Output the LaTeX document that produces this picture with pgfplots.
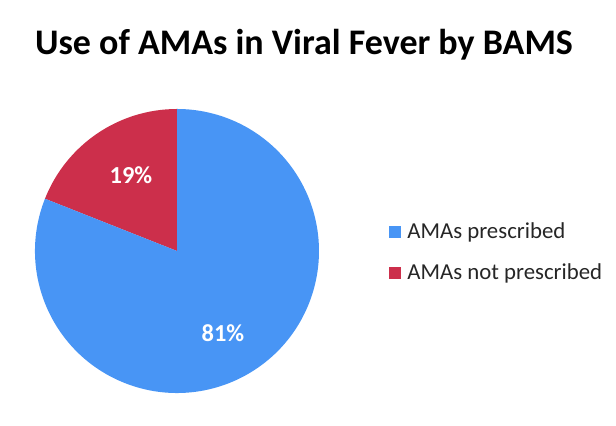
\documentclass[border=0pt]{standalone}
\usepackage{fontspec}
\setmainfont{Carlito}
\usepackage{pgfplots}
\pgfplotsset{compat=1.18}
\definecolor{pieblue}{RGB}{72,149,245}
\definecolor{piered}{RGB}{204,47,75}
\begin{document}
\begin{tikzpicture}
% pie values (percent)
\def\valA{81}% AMAs prescribed
\def\valB{19}% AMAs not prescribed
\pgfmathsetmacro{\angB}{90+\valB*3.6}
\begin{axis}[
    hide axis,
    scale only axis,
    width=308pt, height=213pt,
    xmin=0, xmax=616, ymin=0, ymax=426,
    clip=false,
]
\path (axis cs:0,0) rectangle (axis cs:616,426);
% wedges (radius 142px = 71pt)
\fill[piered] (axis cs:177,175) -- ++(90:71pt) arc[start angle=90, end angle=\angB, radius=71pt] -- cycle;
\fill[pieblue] (axis cs:177,175) -- ++(\angB:71pt) arc[start angle=\angB, end angle=450, radius=71pt] -- cycle;
\node[font=\fontsize{12.2}{14}\selectfont\bfseries, text=white] at (axis cs:131,251) {\valB\%};
\node[font=\fontsize{12.2}{14}\selectfont\bfseries, text=white] at (axis cs:223,93) {\valA\%};
% title
\node[font=\fontsize{18}{21}\selectfont\bfseries] at (axis cs:304,381) {Use of AMAs in Viral Fever by BAMS};
% legend
\fill[pieblue] (axis cs:389,188) rectangle (axis cs:401,200);
\node[anchor=west, font=\fontsize{11.4}{13}\selectfont, text=black!85, inner sep=0pt] at (axis cs:407,194) {AMAs prescribed};
\fill[piered] (axis cs:389,147) rectangle (axis cs:401,159);
\node[anchor=west, font=\fontsize{11.4}{13}\selectfont, text=black!85, inner sep=0pt] at (axis cs:407,153) {AMAs not prescribed};
\end{axis}
\end{tikzpicture}
\end{document}
